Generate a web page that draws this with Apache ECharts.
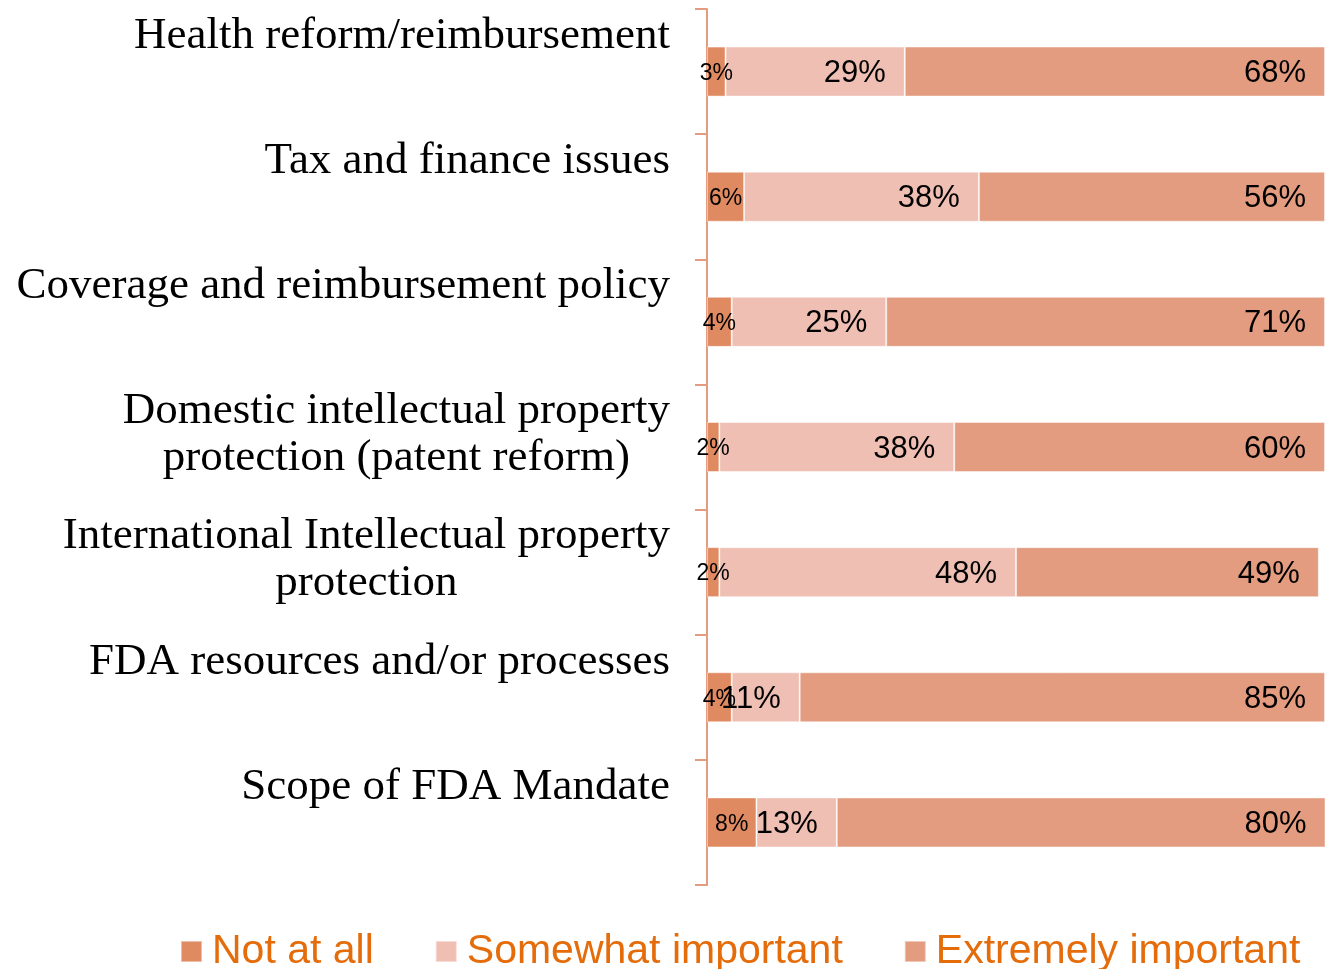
<!DOCTYPE html>
<html>
<head>
<meta charset="utf-8">
<script src="https://cdn.jsdelivr.net/npm/echarts@6/dist/echarts.min.js"></script>
<style>html,body{margin:0;padding:0;background:#fff}#c{width:1327px;height:969px}</style>
</head>
<body>
<div id="c"></div>
<script>
const categories = [
  'Health reform/reimbursement',
  'Tax and finance issues',
  'Coverage and reimbursement policy',
  'Domestic intellectual property\nprotection (patent reform)',
  'International Intellectual property\nprotection',
  'FDA resources and/or processes',
  'Scope of FDA Mandate'
];
const seriesNames = ['Not at all', 'Somewhat important', 'Extremely important'];
const notAtAll = [3, 6, 4, 2, 2, 4, 8];
const somewhat = [29, 38, 25, 38, 48, 11, 13];
const extremely = [68, 56, 71, 60, 49, 85, 80];

const colors = ['#E08A62', '#EEBFB2', '#E39C80'];
const chart = echarts.init(document.getElementById('c'));

function mk(name, data, color, small) {
  return {
    name: name,
    type: 'bar',
    stack: 'total',
    data: data,
    barWidth: 50,
    itemStyle: { color: color, borderColor: 'rgba(255,255,255,0.45)', borderWidth: 1 },
    label: {
      show: true,
      position: small ? 'inside' : 'insideRight',
      distance: small ? 0 : 19,
      offset: [0, 2],
      formatter: '{c}%',
      color: '#000',
      fontFamily: 'Liberation Sans, Arial, sans-serif',
      fontSize: small ? 23 : 31,
      textBorderWidth: 0
    },
    emphasis: { disabled: true }
  };
}

chart.setOption({
  animation: false,
  grid: { left: 707, right: 2, top: 9, bottom: 84, containLabel: false },
  legend: {
    left: 180,
    top: 931,
    padding: 0,
    itemGap: 61,
    itemWidth: 21,
    itemHeight: 21,
    icon: 'rect',
    textStyle: { color: '#E46C0A', fontSize: 41, fontFamily: 'Liberation Sans, Arial, sans-serif', padding: [0, 0, 0, 5] },
    data: seriesNames
  },
  xAxis: { type: 'value', min: 0, max: 100, show: false },
  yAxis: {
    type: 'category',
    inverse: true,
    data: categories,
    axisLine: { show: true, lineStyle: { color: '#E39C80', width: 2 } },
    axisTick: { show: true, length: 12, lineStyle: { color: '#E39C80', width: 2 } },
    axisLabel: {
      margin: 37,
      align: 'right',
      verticalAlign: 'top',
      padding: [-59, 0, 0, 0],
      formatter: function (v) { return v.split('\n').map(function (s) { return '{c|' + s + '}'; }).join('\n'); },
      rich: {
        c: { align: 'center', fontFamily: 'Liberation Serif, serif', fontSize: 45, lineHeight: 47, color: '#000' }
      }
    }
  },
  series: [
    mk(seriesNames[0], notAtAll, colors[0], true),
    mk(seriesNames[1], somewhat, colors[1], false),
    mk(seriesNames[2], extremely, colors[2], false)
  ]
});
</script>
</body>
</html>
